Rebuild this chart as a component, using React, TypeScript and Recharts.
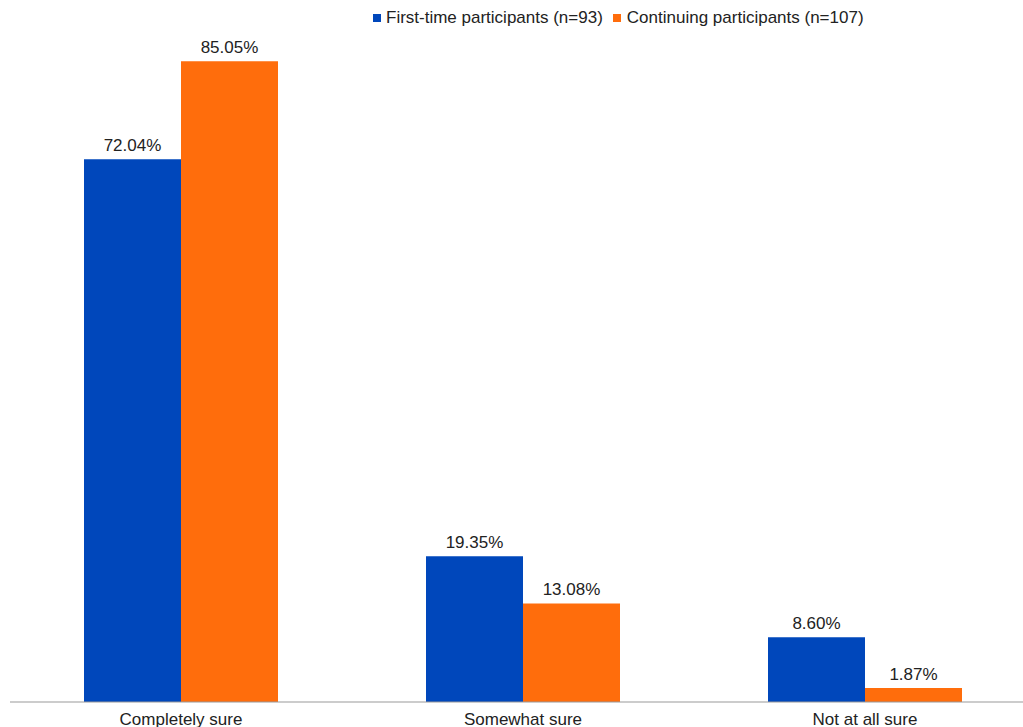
import React from 'react';
import { BarChart, Bar, XAxis, YAxis, LabelList } from 'recharts';

const categories = ['Completely sure', 'Somewhat sure', 'Not at all sure'];
const firstTime = [72.04, 19.35, 8.6];
const continuing = [85.05, 13.08, 1.87];
const seriesNames = ['First-time participants (n=93)', 'Continuing participants (n=107)'];

const BLUE = '#0047bb';
const ORANGE = '#ff6d0c';
const FONT = '"Liberation Sans", Arial, sans-serif';

const data = categories.map((name, i) => ({
  name,
  first: firstTime[i],
  cont: continuing[i],
}));

const fmt = (v: any) => `${Number(v).toFixed(2)}%`;

export default function App() {
  return (
    <div style={{ position: 'absolute', left: 0, top: 0, width: 1023, height: 727, overflow: 'hidden', fontFamily: FONT, background: '#fff' }}>
      {/* legend */}
      <div style={{ position: 'absolute', top: 8, left: 373, display: 'flex', alignItems: 'center', fontSize: 17, lineHeight: '20px', color: '#222', whiteSpace: 'nowrap', zIndex: 1 }}>
        <span style={{ display: 'inline-block', width: 8, height: 8, background: BLUE, marginRight: 5 }} />
        <span style={{ marginRight: 10 }}>{seriesNames[0]}</span>
        <span style={{ display: 'inline-block', width: 8, height: 8, background: ORANGE, marginRight: 6 }} />
        <span>{seriesNames[1]}</span>
      </div>
      <BarChart
        width={1036}
        height={727}
        data={data}
        margin={{ top: 24, right: 0, left: 10, bottom: 0 }}
        barSize={97}
        barGap={0}
      >
        <XAxis
          dataKey="name"
          height={25}
          tickLine={false}
          tickMargin={5}
          axisLine={{ stroke: '#999' }}
          tick={{ fontSize: 17, fill: '#222', fontFamily: FONT }}
          interval={0}
        />
        <YAxis hide domain={[0, 90]} />
        <Bar dataKey="first" fill={BLUE} isAnimationActive={false}>
          <LabelList dataKey="first" position="top" offset={8} formatter={fmt} style={{ fontSize: 17, fill: '#222', fontFamily: FONT }} />
        </Bar>
        <Bar dataKey="cont" fill={ORANGE} isAnimationActive={false}>
          <LabelList dataKey="cont" position="top" offset={8} formatter={fmt} style={{ fontSize: 17, fill: '#222', fontFamily: FONT }} />
        </Bar>
      </BarChart>
    </div>
  );
}
